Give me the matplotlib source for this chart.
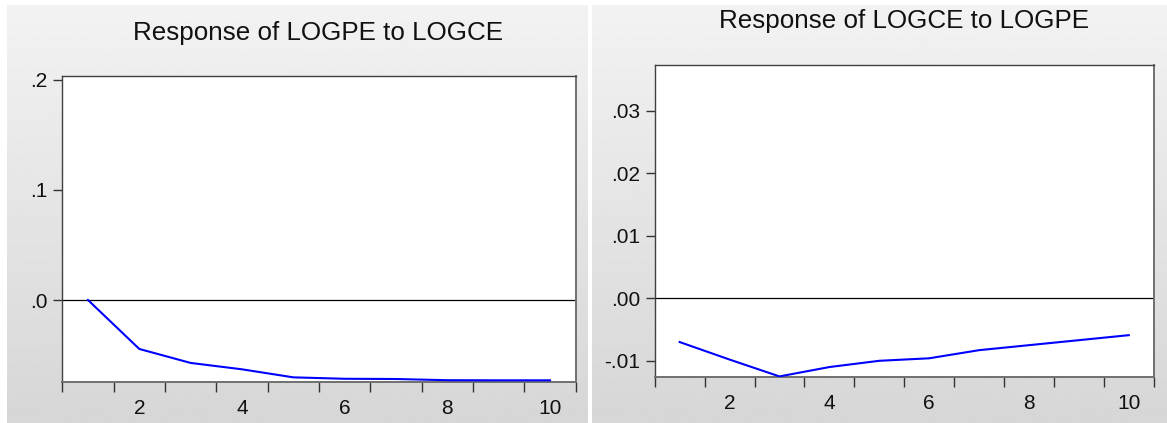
#!/usr/bin/env python3
"""Impulse response panels: LOGPE <-> LOGCE (EViews style)."""

import matplotlib
import matplotlib.pyplot as plt
import numpy as np

matplotlib.use("Agg")

plt.rcParams["font.family"] = ["Liberation Sans", "DejaVu Sans"]

# periods 1..10
periods = [1, 2, 3, 4, 5, 6, 7, 8, 9, 10]

# Response of LOGPE to LOGCE
logpe_resp = [0.0, -0.0445, -0.0572, -0.0630, -0.0703, -0.0716, -0.0718, -0.0729, -0.0730, -0.0730]
left_yticks = [0.0, 0.1, 0.2]
left_ylabels = [".0", ".1", ".2"]

# Response of LOGCE to LOGPE
logce_resp = [-0.0070, -0.0098, -0.0125, -0.0110, -0.0100, -0.0096, -0.0083, -0.0075, -0.0067, -0.0059]
right_yticks = [-0.01, 0.0, 0.01, 0.02, 0.03]
right_ylabels = ["-.01", ".00", ".01", ".02", ".03"]

xlabel_ticks = [2, 4, 6, 8, 10]

W, H = 1167, 423
fig = plt.figure(figsize=(W / 100, H / 100), dpi=100, facecolor="white")


def panel_background(x0, x1, y0, y1):
    """Gray vertical gradient behind a panel (pixel coords, y from top)."""
    bg = fig.add_axes([x0 / W, 1 - y1 / H, (x1 - x0) / W, (y1 - y0) / H], zorder=-5)
    grad = np.linspace(0.95, 0.84, 256).reshape(-1, 1)
    bg.imshow(grad, cmap="gray", vmin=0, vmax=1, aspect="auto", extent=[0, 1, 0, 1])
    bg.set_axis_off()


panel_background(7, 588, 5, 423)
panel_background(592, 1167, 5, 423)


def irf_axes(rect, values, ylim, yticks, ylabels, title, title_xy):
    ax = fig.add_axes(rect)
    ax.set_facecolor("white")
    ax.plot(periods, values, color="#0000ff", linewidth=1.5, zorder=3)
    ax.axhline(0, color="black", linewidth=0.9, zorder=2)

    ax.set_xlim(0.5, 10.5)
    ax.set_ylim(*ylim)

    # boundary ticks between periods, labels on even periods
    ax.set_xticks(xlabel_ticks)
    ax.set_xticklabels([str(t) for t in xlabel_ticks])
    ax.set_xticks(np.arange(0.5, 11.0, 1.0), minor=True)
    ax.tick_params(axis="x", which="major", length=0, pad=12, labelsize=15, labelcolor="#111111")
    ax.tick_params(axis="x", which="minor", length=7.5, width=1, color="#333333", direction="out")

    ax.set_yticks(yticks)
    ax.set_yticklabels(ylabels)
    ax.tick_params(axis="y", length=6.5, width=1, color="#333333", pad=4, labelsize=15,
                   labelcolor="#111111")

    for side in ["top", "left"]:
        ax.spines[side].set_color("#404040")
        ax.spines[side].set_linewidth(1.0)
    for side in ["bottom", "right"]:
        ax.spines[side].set_color("#707070")
        ax.spines[side].set_linewidth(1.4)

    fig.text(title_xy[0] / W, 1 - title_xy[1] / H, title, ha="center", va="center",
             fontsize=18.7, color="#111111")
    return ax


irf_axes(
    [62.3 / W, 1 - 382.3 / H, (575.7 - 62.3) / W, (382.3 - 76) / H],
    logpe_resp, (-0.0748, 0.2036), left_yticks, left_ylabels,
    "Response of LOGPE to LOGCE", (318, 33),
)
irf_axes(
    [654.7 / W, 1 - 377.3 / H, (1153.7 - 654.7) / W, (377.3 - 65.3) / H],
    logce_resp, (-0.01264, 0.03728), right_yticks, right_ylabels,
    "Response of LOGCE to LOGPE", (904, 21),
)

fig.savefig("out.png", dpi=100, facecolor="white")
